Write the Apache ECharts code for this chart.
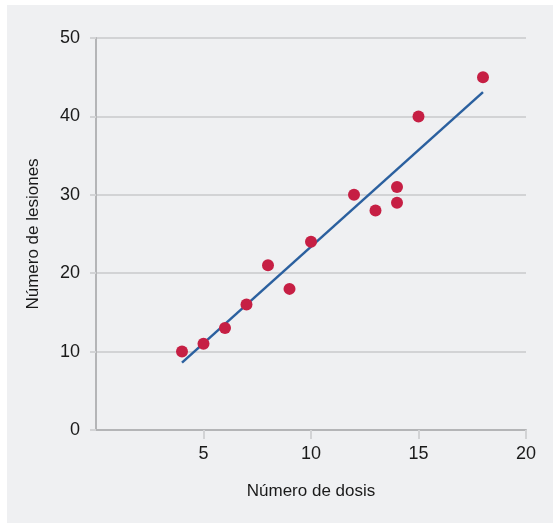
<!DOCTYPE html>
<html>
<head>
<meta charset="utf-8">
<script src="https://cdn.jsdelivr.net/npm/echarts@6/dist/echarts.min.js"></script>
<style>
  html, body { margin: 0; padding: 0; background: #ffffff; }
  #chart { width: 554px; height: 524px; }
</style>
</head>
<body>
<div id="chart"></div>
<script>
// datos
const dosis = [4, 5, 6, 7, 8, 9, 10, 12, 13, 14, 14, 15, 18];
const lesiones = [10, 11, 13, 16, 21, 18, 24, 30, 28, 31, 29, 40, 45];
// recta de ajuste (extremos)
const rectaX = [4, 18];
const rectaY = [8.6, 43.1];
const xTicks = [5, 10, 15, 20];

const chart = echarts.init(document.getElementById("chart"));

const option = {
  animation: false,
  textStyle: { fontFamily: "Liberation Sans, Arial, sans-serif" },
  graphic: [
    {
      type: "rect",
      z: -10,
      shape: { x: 7, y: 5, width: 546, height: 518 },
      style: { fill: "#eff0f2" },
    },
  ],
  grid: { left: 96, right: 28, top: 38, bottom: 94 },
  xAxis: {
    type: "value",
    min: 0,
    max: 20,
    interval: 5,
    name: "Número de dosis",
    nameLocation: "middle",
    nameGap: 53,
    nameTextStyle: { fontSize: 17, color: "#1a1a1a" },
    axisLine: { show: true, lineStyle: { color: "#b4b5b7", width: 2 } },
    axisTick: {
      show: true,
      length: 9,
      customValues: xTicks,
      lineStyle: { color: "#d2d3d5", width: 2 },
    },
    axisLabel: {
      fontSize: 18,
      color: "#1a1a1a",
      margin: 15,
      customValues: xTicks,
    },
    splitLine: { show: false },
  },
  yAxis: {
    type: "value",
    min: 0,
    max: 50,
    interval: 10,
    name: "Número de lesiones",
    nameLocation: "middle",
    nameGap: 54,
    nameTextStyle: { fontSize: 17, color: "#1a1a1a" },
    axisLine: { show: true, lineStyle: { color: "#b4b5b7", width: 2 } },
    axisTick: { show: true, length: 6, lineStyle: { color: "#d2d3d5", width: 2 } },
    axisLabel: { fontSize: 18, color: "#1a1a1a", margin: 16 },
    splitLine: { show: true, lineStyle: { color: "#d2d3d5", width: 2 } },
  },
  series: [
    {
      type: "line",
      data: rectaX.map((x, i) => [x, rectaY[i]]),
      symbol: "none",
      lineStyle: { color: "#2b609f", width: 2.5 },
      z: 2,
    },
    {
      type: "scatter",
      data: dosis.map((x, i) => [x, lesiones[i]]),
      symbolSize: 12,
      itemStyle: { color: "#c61f44", opacity: 1 },
      z: 3,
    },
  ],
};

chart.setOption(option);
</script>
</body>
</html>
